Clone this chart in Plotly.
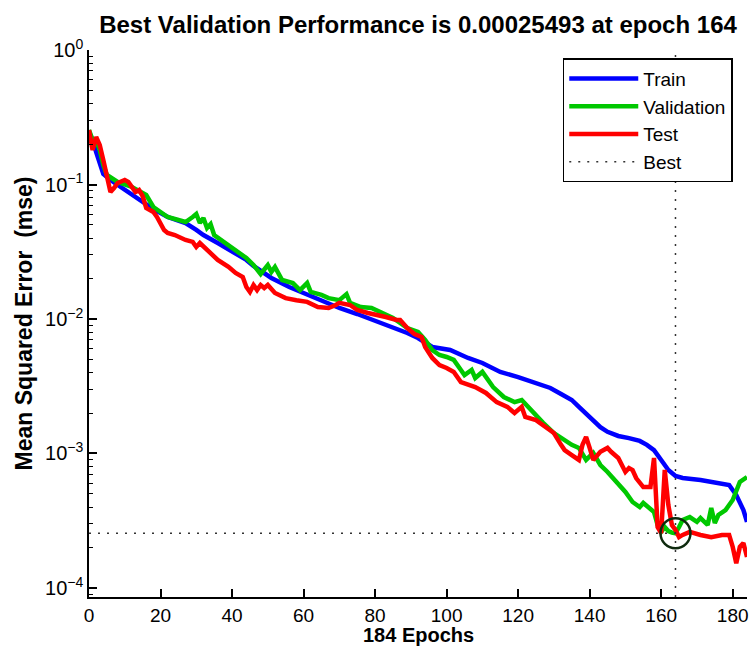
import plotly.graph_objects as go

# values (mse, log scale)
train_epoch = [0, 1, 2, 3, 4, 6, 8, 10, 13, 16, 18, 22, 27, 30, 32, 36, 41, 44, 46, 51,
               56, 61, 66, 70, 75, 80, 85, 89, 92, 96, 101, 106, 110, 115, 120, 124, 129,
               132, 135, 137, 139, 141, 143, 145, 148, 151, 154, 156, 158, 160, 162, 164,
               166, 171, 176, 179, 181, 183, 184]
train_mse = [0.2456, 0.2143, 0.1744, 0.1396, 0.1197, 0.1080, 0.0992, 0.0910, 0.0807, 0.0704,
             0.0657, 0.0573, 0.0517, 0.0459, 0.0421, 0.0367, 0.0310, 0.0275, 0.0248, 0.0202,
             0.0173, 0.0151, 0.0134, 0.01207, 0.01089, 0.00966, 0.00872, 0.00787, 0.00722,
             0.00619, 0.00588, 0.00513, 0.00471, 0.00404, 0.00370, 0.00340, 0.00307, 0.00277,
             0.00250, 0.00222, 0.00197, 0.00177, 0.00157, 0.00145, 0.00135, 0.00130, 0.00124,
             0.00116, 0.00106, 0.000895, 0.000754, 0.000680, 0.000657, 0.000635, 0.000603,
             0.000583, 0.000491, 0.000380, 0.000310]

val_epoch = [0, 1, 2, 3, 4, 5, 8, 12, 16, 18, 22, 27, 29, 30, 31, 32, 33, 34, 35, 39, 41, 44,
             46, 48, 50, 51, 52, 54, 57, 59, 61, 62, 65, 67, 70, 72, 73, 76, 79, 82, 85, 87,
             89, 92, 94, 96, 98, 100, 102, 104, 105, 107, 108, 110, 113, 116, 119, 121, 124,
             127, 130, 133, 135, 137, 139, 141, 143, 145, 147, 150, 152, 154, 155, 157, 158,
             159, 160, 161, 162, 163, 164, 165, 166, 168, 170, 171, 173, 174, 175, 176, 178,
             180, 181, 182, 184]
val_mse = [0.2541, 0.2143, 0.2143, 0.1805, 0.1396, 0.1177, 0.1044, 0.0958, 0.0835, 0.0680,
           0.0573, 0.0526, 0.0573, 0.0603, 0.0517, 0.0563, 0.0475, 0.0508, 0.0421, 0.0355,
           0.0326, 0.0284, 0.0252, 0.0216, 0.0252, 0.0224, 0.0244, 0.0195, 0.0185, 0.0164,
           0.0185, 0.0159, 0.0151, 0.0143, 0.0138, 0.0153, 0.0132, 0.01228, 0.01207, 0.01108,
           0.01017, 0.00934, 0.00857, 0.00800, 0.00698, 0.00588, 0.00540, 0.00522, 0.00496,
           0.00418, 0.00383, 0.00418, 0.00364, 0.00404, 0.00312, 0.00263, 0.00241, 0.00250,
           0.00203, 0.00169, 0.00142, 0.00126, 0.00116, 0.00110, 0.000895, 0.00101, 0.000821,
           0.000729, 0.000635, 0.000517, 0.000436, 0.000400, 0.000429, 0.000380, 0.000367,
           0.000294, 0.000262, 0.000284, 0.000265, 0.000258, 0.00025493, 0.000284, 0.000320,
           0.000337, 0.000310, 0.000331, 0.000294, 0.000393, 0.000304, 0.000349, 0.000380,
           0.000451, 0.000517, 0.000614, 0.000669]

test_epoch = [0, 1, 2, 3, 4, 5, 6, 7, 8, 10, 11, 13, 14, 15, 16, 18, 19, 21, 22, 24, 27, 29,
              30, 31, 33, 34, 36, 39, 41, 43, 44, 45, 46, 47, 48, 49, 50, 52, 55, 58, 61, 64,
              67, 69, 70, 73, 75, 78, 81, 83, 86, 87, 89, 91, 93, 94, 96, 98, 100, 102, 104,
              106, 108, 111, 114, 117, 119, 121, 122, 125, 128, 130, 132, 133, 135, 137, 138,
              139, 140, 141, 143, 145, 146, 148, 150, 151, 152, 153, 155, 157, 158, 159, 160,
              161, 162, 163, 164, 165, 166, 168, 171, 174, 177, 179, 180, 181, 182, 183, 184]
test_mse = [0.2541, 0.1805, 0.2255, 0.1967, 0.1521, 0.1137, 0.0879, 0.0942, 0.1026, 0.1080,
            0.1044, 0.0879, 0.0910, 0.0821, 0.0669, 0.0624, 0.0573, 0.0459, 0.0436, 0.0421,
            0.0387, 0.0374, 0.0343, 0.0367, 0.0326, 0.0315, 0.0275, 0.0244, 0.0220, 0.0205,
            0.0173, 0.0159, 0.0179, 0.0164, 0.0179, 0.0170, 0.0179, 0.0156, 0.0143, 0.0138,
            0.0134, 0.01228, 0.01207, 0.01271, 0.0132, 0.01271, 0.01166, 0.01108, 0.01071,
            0.01035, 0.00983, 0.00983, 0.00857, 0.00774, 0.00735, 0.00619, 0.00513, 0.00455,
            0.00432, 0.00404, 0.00340, 0.00323, 0.00312, 0.00282, 0.00241, 0.00222, 0.00200,
            0.00222, 0.00187, 0.00177, 0.00155, 0.00142, 0.00116, 0.00106, 0.000974, 0.000895,
            0.00116, 0.00133, 0.00110, 0.000895, 0.00103, 0.00110, 0.00103, 0.000926, 0.000729,
            0.000780, 0.000754, 0.000657, 0.000563, 0.000563, 0.000926, 0.000284, 0.000256,
            0.000754, 0.000414, 0.000294, 0.000270, 0.000239, 0.000248, 0.000261, 0.000248,
            0.000239, 0.000248, 0.000248, 0.000202, 0.000153, 0.000202, 0.000216, 0.000170]

best_epoch = 164
best_perf = 0.00025493
n_epochs = 184

ytick_vals = [1e-4, 1e-3, 1e-2, 1e-1, 1]
ytick_text = ["10<sup>\u22124</sup>", "10<sup>\u22123</sup>", "10<sup>\u22122</sup>",
              "10<sup>\u22121</sup>", "10<sup>0</sup>"]
minor_vals = [m * 10.0 ** e for e in range(-5, 0) for m in range(2, 10)]

font = "Liberation Sans, Arial, sans-serif"
y_bottom = 10 ** -4.067

fig = go.Figure()
fig.add_trace(go.Scatter(x=train_epoch, y=train_mse, mode="lines", name="Train",
                         line=dict(color="#0000ff", width=4.5)))
fig.add_trace(go.Scatter(x=val_epoch, y=val_mse, mode="lines", name="Validation",
                         line=dict(color="#00c800", width=4.5)))
fig.add_trace(go.Scatter(x=test_epoch, y=test_mse, mode="lines", name="Test",
                         line=dict(color="#ff0000", width=4.5)))
# best markers
fig.add_trace(go.Scatter(x=[best_epoch, best_epoch], y=[y_bottom, 1], mode="lines",
                         name="Best", line=dict(color="#333333", width=1.5, dash="2px,7px")))
fig.add_trace(go.Scatter(x=[0, best_epoch], y=[best_perf, best_perf], mode="lines",
                         showlegend=False, line=dict(color="#333333", width=1.5, dash="2px,7px")))
fig.add_trace(go.Scatter(x=[best_epoch], y=[best_perf], mode="markers", showlegend=False,
                         marker=dict(symbol="circle-open", size=30, color="#0e2a0e",
                                     line=dict(width=2.5, color="#0e2a0e"))))

fig.update_layout(
    width=750, height=648,
    margin=dict(l=89, r=3, t=50, b=51, autoexpand=False),
    paper_bgcolor="white", plot_bgcolor="white",
    font=dict(family=font, size=20, color="black"),
    title=dict(text="<b>Best Validation Performance is 0.00025493 at epoch 164</b>",
               xref="paper", x=0.5, xanchor="center", yref="container", y=0.962,
               yanchor="middle", font=dict(size=24)),
    showlegend=True,
    legend=dict(x=0.72, y=0.985, xanchor="left", yanchor="top", bgcolor="white",
                bordercolor="black", borderwidth=1.5, itemwidth=69,
                font=dict(size=19), tracegroupgap=0),
    hovermode=False,
)
fig.add_annotation(text="<b>184 Epochs</b>", xref="paper", yref="paper", x=0.5, y=-0.0695,
                   xanchor="center", yanchor="middle", showarrow=False, font=dict(size=20))
fig.add_annotation(text="<b>Mean Squared Error  (mse)</b>", xref="paper", yref="paper",
                   x=-0.0988, y=0.5, xanchor="center", yanchor="middle", textangle=-90,
                   showarrow=False, font=dict(size=23))
fig.update_xaxes(range=[0, n_epochs], tickvals=list(range(0, 181, 20)), automargin=False,
                 tickfont=dict(size=19),
                 showline=True, linecolor="black", linewidth=1.5, mirror=False,
                 ticks="inside", ticklen=8, tickwidth=1.5, tickcolor="black",
                 showgrid=False, zeroline=False)
fig.update_yaxes(type="log", range=[-4.067, 0], tickvals=ytick_vals, ticktext=ytick_text,
                 automargin=False,
                 showline=True, linecolor="black", linewidth=1.5,
                 ticks="inside", ticklen=8, tickwidth=1.5, tickcolor="black",
                 minor=dict(tickvals=minor_vals, ticks="inside", ticklen=4, tickwidth=1,
                            tickcolor="black", showgrid=False),
                 showgrid=False, zeroline=False)

fig.write_html("out.html", config={"displayModeBar": False},
               post_script="document.body.style.margin='0';")
